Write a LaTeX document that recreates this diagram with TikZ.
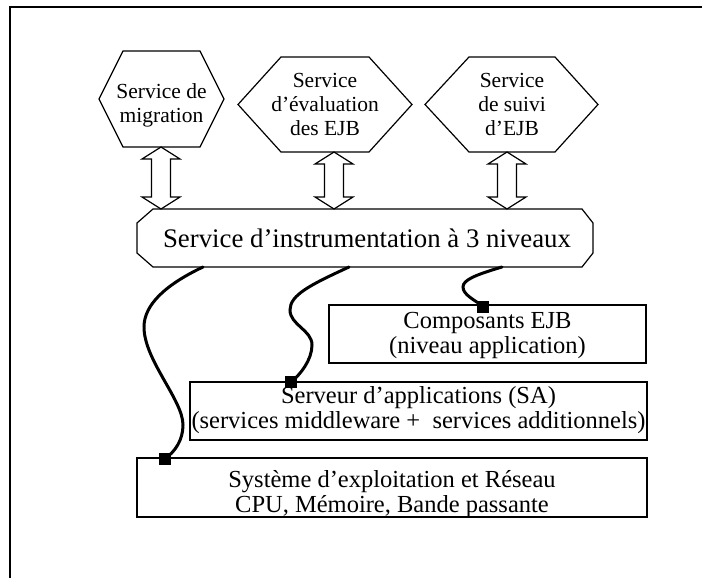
\documentclass[tikz,border=0pt]{standalone}
\usepackage{fontspec}
\setmainfont{Liberation Serif}
\begin{document}
\begin{tikzpicture}[x=1pt,y=-1pt,
  frameline/.style={line width=2pt},
  shapeline/.style={draw, line width=1.2pt, line join=miter},
  box/.style={draw, line width=1.5pt, inner sep=0pt, outer sep=0pt},
  link/.style={line width=3pt, line cap=round},
  marker/.style={fill=black, minimum size=12pt, inner sep=0pt, outer sep=0pt},
  hextext/.style={align=center, inner sep=0pt, font=\fontsize{21.5}{24}\selectfont},
  boxtext/.style={align=center, inner sep=0pt, font=\fontsize{24.5}{25}\selectfont},
  insttext/.style={inner sep=0pt, font=\fontsize{26.8}{28}\selectfont}]
\useasboundingbox (0,0) rectangle (702,578);

% outer frame (open to the right and bottom)
\draw[frameline] (10,578) -- (10,7) -- (702,7);

% the three upper services (hexagons)
\draw[shapeline] (123,51) -- (200,51) -- (224,99) -- (200,147) -- (123,147) -- (99,99) -- cycle;
\node[hextext] (h1) at (161.5,105) {Service de\\migration};

\draw[shapeline] (281,57) -- (369,57) -- (412,104.5) -- (369,152) -- (281,152) -- (238,104.5) -- cycle;
\node[hextext] (h2) at (325,104) {Service\\d’évaluation\\des EJB};

\draw[shapeline] (469,57) -- (555,57) -- (598,104.5) -- (555,152) -- (469,152) -- (425,104.5) -- cycle;
\node[hextext] (h3) at (512,104) {Service\\de suivi\\d’EJB};

% double block arrows between services and instrumentation
\foreach \c/\t in {161/147, 334/152, 507/152} {
  \draw[shapeline] (\c,\t) -- (\c+19,\t+12) -- (\c+9.5,\t+12) -- (\c+9.5,197)
    -- (\c+19,197) -- (\c,209) -- (\c-19,197) -- (\c-9.5,197)
    -- (\c-9.5,\t+12) -- (\c-19,\t+12) -- cycle;
}

% instrumentation service (octagon)
\draw[shapeline] (153,209) -- (582,209) -- (593,223) -- (593,253) -- (582,267)
  -- (153,267) -- (137,253) -- (137,223) -- cycle;
\node[insttext] (inst) at (367,238) {Service d’instrumentation à 3 niveaux};

% the three monitored levels
\node[box, minimum width=317pt, minimum height=58pt] (comp) at (487.5,334) {};
\node[boxtext] (comptxt) at (487.5,335.5) {Composants EJB\\(niveau application)};

\node[box, minimum width=457pt, minimum height=58pt] (serv) at (418.5,411) {};
\node[boxtext] (servtxt) at (418.5,410.5) {Serveur d’applications (SA)\\(services middleware +\ \ services additionnels)};

\node[box, minimum width=510pt, minimum height=59pt] (sys) at (392,487.5) {};
\node[boxtext] (systxt) at (392,494) {Système d’exploitation et Réseau\\CPU, Mémoire, Bande passante};

% probes from the instrumentation service down to each level
\coordinate (o1) at (203,267);
\coordinate (o2) at (349,267);
\coordinate (o3) at (502,267);
\node[marker] (m1) at (164.5,459) {};
\node[marker] (m2) at (291,382) {};
\node[marker] (m3) at (483,306.5) {};

\draw[link] (o1) .. controls (165,285) and (144,305) .. (144,327)
  .. controls (144,360) and (183,400) .. (183,425)
  .. controls (183,440) and (175,452) .. (m1.center);
\draw[link] (o2) .. controls (310,285) and (290,295) .. (290,310)
  .. controls (290,325) and (312,330) .. (312,345)
  .. controls (312,360) and (300,375) .. (m2.center);
\draw[link] (o3) .. controls (475,275) and (463,280) .. (463,287)
  .. controls (463,295) and (475,300) .. (m3.center);

\node[marker] at (m1) {};
\node[marker] at (m2) {};
\node[marker] at (m3) {};
\end{tikzpicture}
\end{document}
